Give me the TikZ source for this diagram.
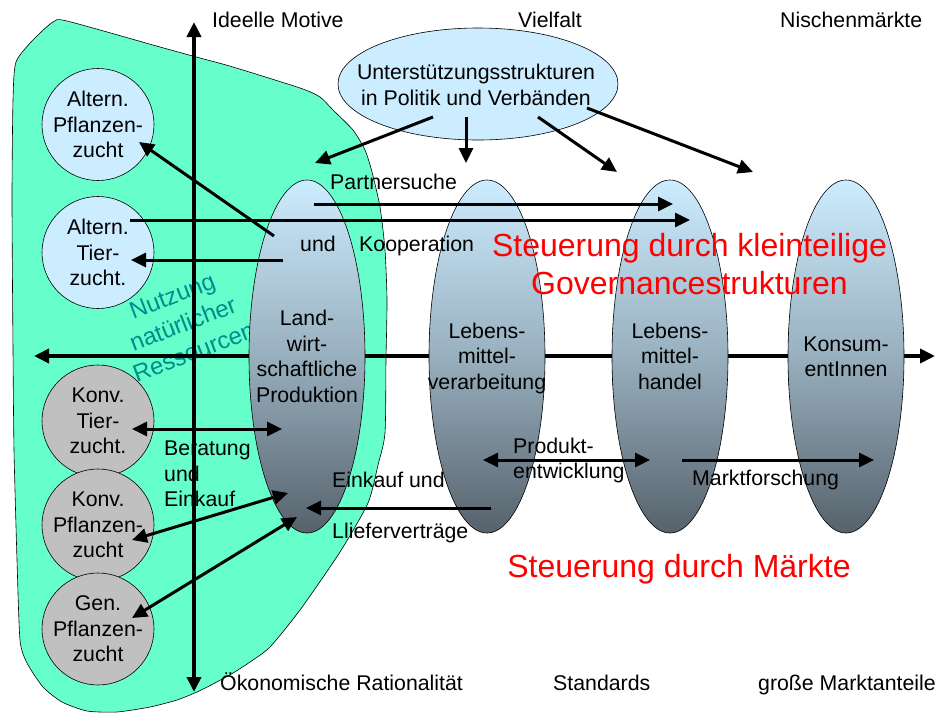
\documentclass[tikz,border=0pt]{standalone}
\usepackage{fontspec}
\setmainfont{Liberation Sans}
\usetikzlibrary{arrows.meta,shapes.geometric}
\definecolor{blobgreen}{RGB}{102,255,204}
\definecolor{lb}{RGB}{204,236,255}
\definecolor{grc}{RGB}{192,192,192}
\definecolor{dk}{RGB}{86,98,108}
\definecolor{md}{RGB}{152,175,190}
\definecolor{tealtxt}{RGB}{0,140,140}
\definecolor{redtxt}{RGB}{255,0,0}
\begin{document}
\begin{tikzpicture}[x=1pt,y=-1pt,
  >={Triangle[length=15pt,width=14pt]},
  txt/.style={inner sep=0pt, font=\fontsize{21.3}{25.5}\selectfont},
  redlbl/.style={inner sep=0pt, text=redtxt, font=\fontsize{32}{38}\selectfont},
  arr/.style={line width=3pt,->},
  darr/.style={line width=3pt,<->},
  axis/.style={line width=4pt,<->},
  circ/.style={circle, draw=black, line width=0.6pt, minimum size=112pt, inner sep=0pt},
  bigell/.style={ellipse, draw=black, line width=0.6pt, minimum width=116pt, minimum height=353pt, inner sep=0pt,
     top color=lb, bottom color=dk, middle color=md},
  topell/.style={ellipse, draw=black, line width=0.6pt, fill=lb, minimum width=280pt, minimum height=112pt, inner sep=0pt}
]
\useasboundingbox (0,0) rectangle (935,713);

% green area
\draw[fill=blobgreen, line width=0.6pt] plot[smooth cycle, tension=0.4] coordinates {
 (53,22) (67,21) (160,47) (200,58) (233,67) (300,88) (320,97) (333,110) (353,130) (365,150) (372,172)
 (380,207) (385,250) (387,300) (386,360) (385,433) (378,465) (368,503) (340,552) (300,610) (270,647)
 (250,662) (233,673) (213,684) (197,692) (177,700) (150,707) (117,712) (87,711) (62,702) (43,687)
 (27,663) (20,640) (17,560) (14,450) (13,350) (12,200) (13,100) (16,62) (33,40)};

% teal label
\node[inner sep=0pt, text=tealtxt, rotate=21, align=center, font=\fontsize{24}{30}\selectfont]
  (nat) at (183,324) {Nutzung\\natürlicher\\Ressourcen};

% axes
\coordinate (ax1) at (194,22);
\coordinate (ax2) at (194,692);
\coordinate (ax3) at (34,356);
\coordinate (ax4) at (935,356);
\draw[axis] (ax1) -- (ax2);
\draw[axis] (ax3) -- (ax4);

% support structures
\node[topell] (U) at (478,84) {};

% chain ellipses
\node[bigell] (E1) at (307,356.5) {};
\node[bigell] (E2) at (487,356.5) {};
\node[bigell] (E3) at (670,356.5) {};
\node[bigell] (E4) at (846,356.5) {};

% circles
\node[circ, fill=lb] (A1) at (98,124.5) {};
\node[circ, fill=lb] (A2) at (98,252.5) {};
\node[circ, fill=grc] (K1) at (98,421) {};
\node[circ, fill=grc] (K2) at (98,525) {};
\node[circ, fill=grc] (G1) at (98,629) {};

% connector end points
\coordinate (u1) at (433,117); \coordinate (t1) at (315,163);
\coordinate (u2) at (466,117); \coordinate (t2) at (466,163);
\coordinate (u3) at (538,117); \coordinate (t3) at (617,172);
\coordinate (u4) at (587,108); \coordinate (t4) at (753,172);
\coordinate (p1) at (314,204); \coordinate (p2) at (673,204);
\coordinate (k1) at (130,220); \coordinate (k2) at (690,220);
\coordinate (a7) at (274,236); \coordinate (b7) at (139,142);
\coordinate (a8) at (283,260); \coordinate (b8) at (131,260);
\coordinate (a9) at (132,429); \coordinate (b9) at (282,429);
\coordinate (a10) at (132,540); \coordinate (b10) at (288,493);
\coordinate (a11) at (132,618); \coordinate (b11) at (297,517);
\coordinate (a12) at (491,508); \coordinate (b12) at (306,508);
\coordinate (a13) at (483,460); \coordinate (b13) at (650,460);
\coordinate (a14) at (682,460); \coordinate (b14) at (874,460);

\draw[arr] (u1) -- (t1);
\draw[arr] (u2) -- (t2);
\draw[arr] (u3) -- (t3);
\draw[arr] (u4) -- (t4);
\draw[arr] (p1) -- (p2);
\draw[arr] (k1) -- (k2);
\draw[arr] (a7) -- (b7);
\draw[arr] (a8) -- (b8);
\draw[darr] (a9) -- (b9);
\draw[darr] (a10) -- (b10);
\draw[darr] (a11) -- (b11);
\draw[arr] (a12) -- (b12);
\draw[darr] (a13) -- (b13);
\draw[arr] (a14) -- (b14);

% texts in shapes
\node[txt, align=center] (tU) at (476,85) {Unterstützungsstrukturen\\in Politik und Verbänden};
\node[txt, align=center] (tE1) at (E1.center) {Land-\\wirt-\\schaftliche\\Produktion};
\node[txt, align=center] (tE2) at (487,358) {Lebens-\\mittel-\\verarbeitung};
\node[txt, align=center] (tE3) at (670,356) {Lebens-\\mittel-\\handel};
\node[txt, align=center] (tE4) at (846,357) {Konsum-\\entInnen};
\node[txt, align=center] (tA1) at (A1.center) {Altern.\\Pflanzen-\\zucht};
\node[txt, align=center] (tA2) at (A2.center) {Altern.\\Tier-\\zucht.};
\node[txt, align=center] (tK1) at (K1.center) {Konv.\\Tier-\\zucht.};
\node[txt, align=center] (tK2) at (K2.center) {Konv.\\Pflanzen-\\zucht};
\node[txt, align=center] (tG1) at (G1.center) {Gen.\\Pflanzen-\\zucht};

% axis labels
\node[txt, anchor=base west] (l1) at (212,27) {Ideelle Motive};
\node[txt, anchor=base west] (l2) at (518,27) {Vielfalt};
\node[txt, anchor=base west] (l3) at (780,27) {Nischenmärkte};
\node[txt, anchor=base west] (l4) at (220,690) {Ökonomische Rationalität};
\node[txt, anchor=base west] (l5) at (553,690) {Standards};
\node[txt, anchor=base west] (l6) at (758,690) {große Marktanteile};

% connector labels
\node[txt, anchor=base west] (c1) at (330,189) {Partnersuche};
\node[txt, anchor=base west] (c2) at (300,251) {und};
\node[txt, anchor=base west] (c3) at (359,251) {Kooperation};
\node[txt, anchor=west, align=left] (c4) at (164,474) {Beratung\\und\\Einkauf};
\node[txt, anchor=base west] (c5) at (332,487) {Einkauf und};
\node[txt, anchor=base west] (c6) at (332,538) {Llieferverträge};
\node[txt, anchor=west, align=left] (c7) at (513,460.5) {Produkt-\\entwicklung};
\node[txt, anchor=base west] (c8) at (692,485) {Marktforschung};

% red labels
\node[redlbl, align=center] (r1) at (689.5,264.5) {Steuerung durch kleinteilige\\Governancestrukturen};
\node[redlbl, anchor=base] (r2) at (679,577) {Steuerung durch Märkte};
\end{tikzpicture}
\end{document}
